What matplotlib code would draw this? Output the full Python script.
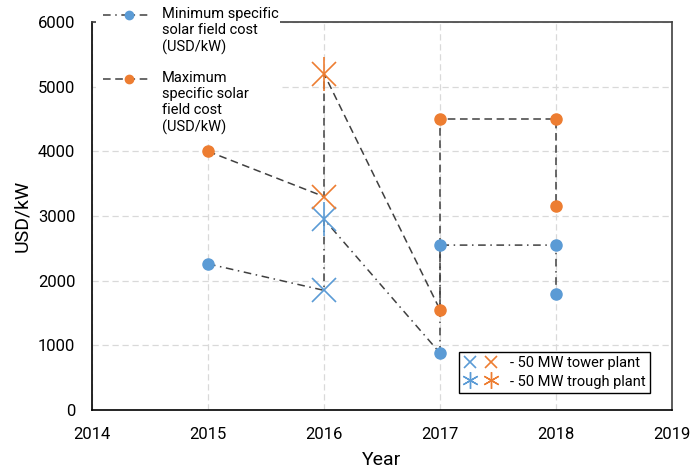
import matplotlib.pyplot as plt
from matplotlib.lines import Line2D
from matplotlib.patches import Rectangle
from matplotlib.legend_handler import HandlerTuple

# Данные
years = [2015, 2016, 2016, 2017, 2017, 2018, 2018]
min_cost = [2260, 1850, 2950, 880, 2550, 2550, 1800]   # минимальная стоимость
max_cost = [4000, 3300, 5200, 1550, 4500, 4500, 3150]  # максимальная стоимость
# тип маркера для каждой точки: o - обычная, x - башня, * - жёлоб
min_kind = ['o', 'x', '*', 'o', 'o', 'o', 'o']
max_kind = ['o', 'x', '*', 'o', 'o', 'o', 'o']

blue = '#5b9bd5'
orange = '#ed7d31'
line_col = '#404040'
dashdot = (0, (5, 3, 1, 3))
dashed = (0, (5, 3))

plt.rcParams['font.family'] = ['Roboto', 'DejaVu Sans']

W, H = 694, 472
fig = plt.figure(figsize=(W / 100, H / 100), dpi=100)
ax = fig.add_axes([92 / W, 1 - 410 / H, 580 / W, 388 / H])

ax.plot(years, min_cost, color=line_col, linestyle=dashdot, linewidth=1.1, zorder=2)
ax.plot(years, max_cost, color=line_col, linestyle=dashed, linewidth=1.1, zorder=2)


def draw_markers(vals, kinds, color):
    for k in ['o', 'x', '*']:
        xs = [y for y, kk in zip(years, kinds) if kk == k]
        ys = [v for v, kk in zip(vals, kinds) if kk == k]
        if k == 'o':
            ax.plot(xs, ys, 'o', color=color, markersize=8, zorder=3)
        elif k == 'x':
            ax.plot(xs, ys, 'x', color=color, markersize=17, markeredgewidth=1.2, zorder=3)
        else:
            ax.plot(xs, ys, 'x', color=color, markersize=17, markeredgewidth=1.2, zorder=3)
            ax.plot(xs, ys, '|', color=color, markersize=24, markeredgewidth=1.2, zorder=3)


draw_markers(min_cost, min_kind, blue)
draw_markers(max_cost, max_kind, orange)

ax.set_xlim(2014, 2019)
ax.set_ylim(0, 6000)
ax.set_xticks(range(2014, 2020))
ax.set_yticks(range(0, 7000, 1000))
ax.tick_params(labelsize=12, length=0, pad=12)
ax.grid(True, color='#d9d9d9', linestyle=dashed, linewidth=0.9)
ax.set_axisbelow(True)
for s in ['left', 'bottom']:
    ax.spines[s].set_color('black')
    ax.spines[s].set_linewidth(1.2)
for s in ['top', 'right']:
    ax.spines[s].set_color('#404040')
    ax.spines[s].set_linewidth(1.2)

ax.set_xlabel('Year', fontsize=14, labelpad=7)
ax.set_ylabel('USD/kW', fontsize=14, labelpad=5)

# верхняя легенда (рисуем вручную, маркер у первой строки подписи)
fig.patches.append(Rectangle((96 / W, 1 - 140 / H), 184 / W, 140 / H,
                             transform=fig.transFigure, facecolor='white',
                             edgecolor='none', zorder=5))
entries = [(15, dashdot, blue, 'Minimum specific\nsolar field cost\n(USD/kW)'),
           (79, dashed, orange, 'Maximum\nspecific solar\nfield cost\n(USD/kW)')]
for ypx, ls, col, label in entries:
    y = 1 - ypx / H
    fig.lines.append(Line2D([103 / W, 150 / W], [y, y], transform=fig.transFigure,
                            color=line_col, linestyle=ls, linewidth=1.1, zorder=6))
    fig.lines.append(Line2D([129 / W], [y], transform=fig.transFigure, marker='o',
                            color=col, markersize=6, zorder=7))
    fig.text(162 / W, 1 - (ypx - 8) / H, label, fontsize=10.5, va='top', ha='left',
             linespacing=1.2, zorder=7)

# нижняя легенда
t_b = Line2D([], [], color=blue, marker='x', linestyle='none', markersize=9, markeredgewidth=1.2)
t_o = Line2D([], [], color=orange, marker='x', linestyle='none', markersize=9, markeredgewidth=1.2)
s_b = Line2D([], [], color=blue, marker=(6, 2, 0), linestyle='none', markersize=12, markeredgewidth=1.0)
s_o = Line2D([], [], color=orange, marker=(6, 2, 0), linestyle='none', markersize=12, markeredgewidth=1.0)
ax.legend([(t_b, t_o), (s_b, s_o)], ['- 50 MW tower plant', '- 50 MW trough plant'],
          handler_map={tuple: HandlerTuple(ndivide=None, pad=0.5)},
          loc='lower right', bbox_to_anchor=(0.962, 0.044), fontsize=10.5,
          fancybox=False, edgecolor='black', framealpha=1, handlelength=2.4,
          handletextpad=0.8, labelspacing=0.3, borderpad=0.3, borderaxespad=0)

fig.savefig('out.png', dpi=100)
